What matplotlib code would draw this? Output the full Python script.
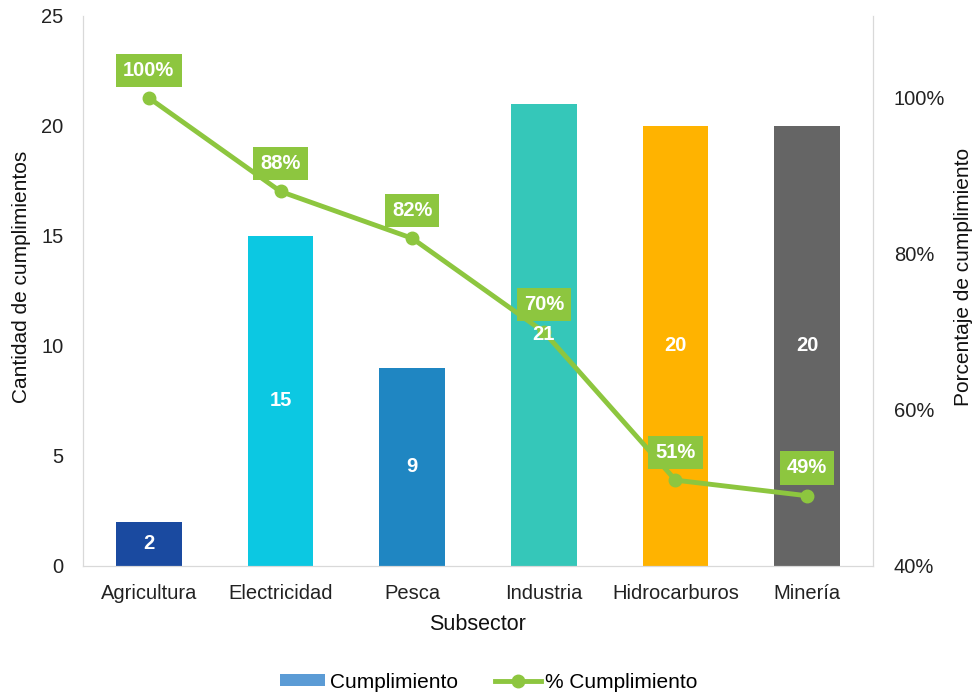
import numpy as np
import matplotlib.pyplot as plt
from matplotlib.patches import Patch
from matplotlib.lines import Line2D

plt.rcParams['font.family'] = ['Liberation Sans', 'DejaVu Sans']

subsectores = ['Agricultura', 'Electricidad', 'Pesca', 'Industria', 'Hidrocarburos', 'Minería']
cumplimiento = [2, 15, 9, 21, 20, 20]
porcentaje = [1.00, 0.88, 0.82, 0.70, 0.51, 0.49]
colores = ['#1a4aa0', '#0cc8e2', '#1f86c2', '#35c7b9', '#ffb300', '#656565']

verde = '#8dc63f'
gris = '#d9d9d9'
fs = 14.5

fig = plt.figure(figsize=(9.77, 6.93), dpi=100)
ax = fig.add_axes([0.085, 0.1833, 0.8085, 0.7937])
x = np.arange(len(subsectores))

ax.bar(x, cumplimiento, width=0.5, color=colores, zorder=2)

ax.set_xlim(-0.5, len(subsectores) - 0.5)
ax.set_ylim(0, 25)
ax.set_yticks(range(0, 26, 5))
ax.set_xticks(x)
ax.set_xticklabels(subsectores)
ax.tick_params(length=0, labelsize=fs, colors='#222222')
ax.tick_params(axis='y', pad=14)
ax.tick_params(axis='x', pad=13)
ax.set_xlabel('Subsector', fontsize=fs + 1, color='#111111', labelpad=8)
ax.set_ylabel('Cantidad de cumplimientos', fontsize=fs + 0.5, color='#111111')
ax.yaxis.set_label_coords(-0.066, 0.525)
ax.spines['top'].set_visible(False)
for s in ['left', 'bottom', 'right']:
    ax.spines[s].set_color(gris)

ax2 = ax.twinx()
ax2.plot(x, porcentaje, color=verde, lw=3.5, marker='o', ms=9, zorder=4)
ax2.set_ylim(0.40, 1.105)
ax2.set_yticks([0.4, 0.6, 0.8, 1.0])
ax2.set_yticklabels(['40%', '60%', '80%', '100%'])
ax2.tick_params(length=0, labelsize=fs, colors='#222222', pad=15)
ax2.set_ylabel('Porcentaje de cumplimiento', fontsize=fs + 0.5, color='#111111')
ax2.yaxis.set_label_coords(1.1025, 0.525)
ax2.spines['top'].set_visible(False)
for s in ['left', 'bottom', 'right']:
    ax2.spines[s].set_color(gris)

# etiquetas de las barras (encima de la línea)
y0, y1 = ax2.get_ylim()
for xi, v in zip(x, cumplimiento):
    ax2.text(xi, y0 + (v / 2) / 25 * (y1 - y0), str(v), ha='center', va='center',
             color='white', fontsize=fs, fontweight='bold', zorder=5)

for xi, p in zip(x, porcentaje):
    ax2.annotate(f'{p:.0%}', (xi, p), xytext=(0, 20), textcoords='offset points',
                 ha='center', va='center', color='white', fontsize=fs,
                 fontweight='bold', zorder=6,
                 bbox=dict(boxstyle='square,pad=0.35', fc=verde, ec='none'))

handles = [Patch(facecolor='#5b9bd5', label='Cumplimiento'),
           Line2D([0], [0], color=verde, lw=3.5, marker='o', ms=9, label='% Cumplimiento')]
fig.legend(handles=handles, loc='lower center', ncol=2, frameon=False,
           fontsize=fs + 0.5, bbox_to_anchor=(0.5, -0.025), handlelength=2.2,
           handleheight=0.5, columnspacing=1.8, handletextpad=0.2)

fig.savefig('out.png', dpi=100)
